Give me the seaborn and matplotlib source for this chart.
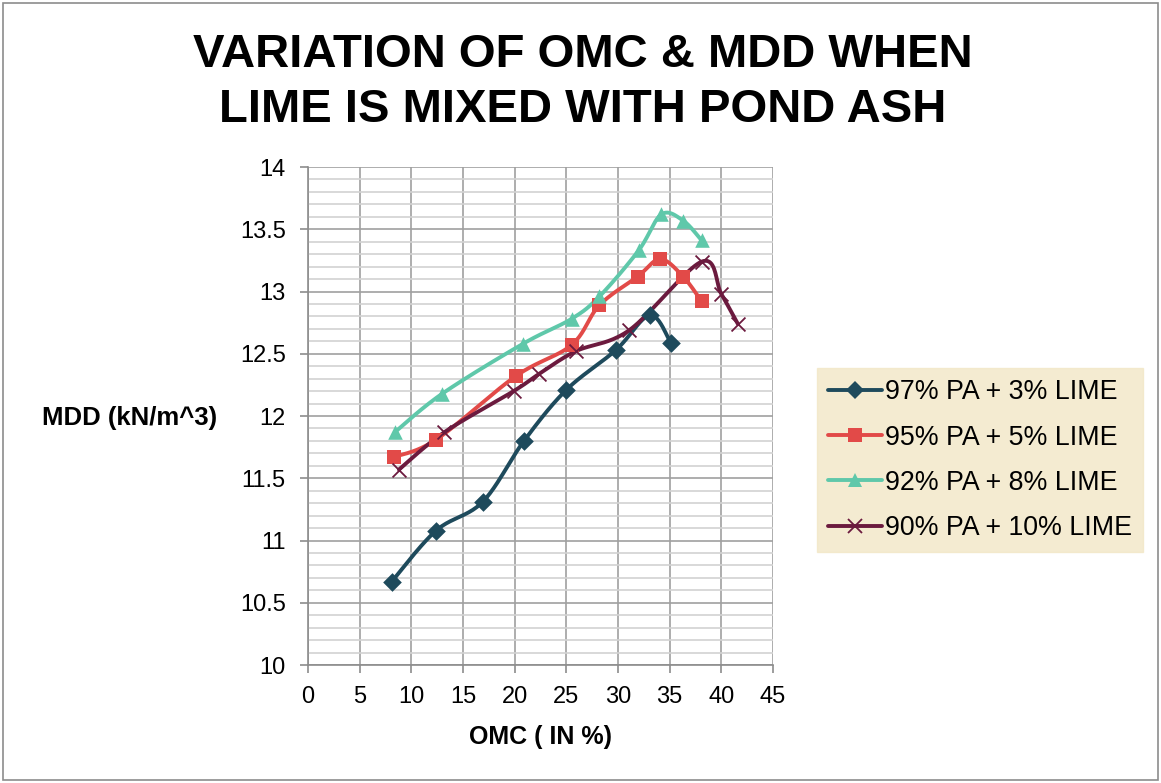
import numpy as np
import pandas as pd
import matplotlib
matplotlib.use("Agg")
import matplotlib.pyplot as plt
from matplotlib.lines import Line2D
from matplotlib.ticker import MultipleLocator
import seaborn as sns

# OMC (%) and MDD (kN/m^3) for each pond ash / lime mix
omc_3 = [8.1, 12.4, 16.9, 20.9, 25.0, 29.8, 33.1, 35.1]
mdd_3 = [10.67, 11.08, 11.31, 11.80, 12.21, 12.53, 12.81, 12.59]

omc_5 = [8.3, 12.4, 20.1, 25.5, 28.2, 31.9, 34.1, 36.3, 38.1]
mdd_5 = [11.67, 11.81, 12.32, 12.57, 12.89, 13.12, 13.26, 13.12, 12.92]

omc_8 = [8.4, 13.0, 20.8, 25.5, 28.2, 32.0, 34.2, 36.3, 38.1]
mdd_8 = [11.87, 12.18, 12.58, 12.78, 12.96, 13.33, 13.62, 13.57, 13.41]

omc_10 = [8.8, 13.2, 19.9, 22.4, 25.9, 31.1, 38.1, 40.0, 41.6]
mdd_10 = [11.57, 11.87, 12.20, 12.34, 12.52, 12.69, 13.24, 12.98, 12.74]

labels = ["97% PA + 3% LIME", "95% PA + 5% LIME", "92% PA + 8% LIME", "90% PA + 10% LIME"]
colors = ["#1E4A5C", "#E24A48", "#5FC8AA", "#6B1A3E"]
markers = ["D", "s", "^", "x"]
msizes = [9.5, 10, 10.5, 10]

x_ticks = list(range(0, 50, 5))
y_ticks = [10, 10.5, 11, 11.5, 12, 12.5, 13, 13.5, 14]

series = [(omc_3, mdd_3), (omc_5, mdd_5), (omc_8, mdd_8), (omc_10, mdd_10)]


def smooth(xs, ys, n=24):
    """Spreadsheet-style smoothed line: cubic Bezier segments with Catmull-Rom handles."""
    p = np.column_stack([xs, ys]).astype(float)
    # work in display-like units so the curve shape follows the drawn aspect
    sx, sy = 10.33, 124.6
    p = p * [sx, sy]
    out = []
    m = len(p)
    for i in range(m - 1):
        p0 = p[i - 1] if i > 0 else p[i]
        p1, p2 = p[i], p[i + 1]
        p3 = p[i + 2] if i + 2 < m else p[i + 1]
        c1 = p1 + (p2 - p0) / 6.0
        c2 = p2 - (p3 - p1) / 6.0
        t = np.linspace(0, 1, n)[:, None]
        seg = ((1 - t) ** 3) * p1 + 3 * ((1 - t) ** 2) * t * c1 + 3 * (1 - t) * t ** 2 * c2 + t ** 3 * p2
        out.append(seg if i == 0 else seg[1:])
    c = np.vstack(out) / [sx, sy]
    return c[:, 0], c[:, 1]


sns.set_style("white")
plt.rcParams["font.family"] = ["Liberation Sans", "DejaVu Sans"]
plt.rcParams["text.color"] = "black"
plt.rcParams["axes.labelcolor"] = "black"

fig = plt.figure(figsize=(11.61, 7.83), dpi=100)
ax = fig.add_axes([0.2653, 0.1507, 0.4005, 0.636])

for (xs, ys), lab, col, mk, ms in zip(series, labels, colors, markers, msizes):
    cx, cy = smooth(xs, ys)
    ax.plot(cx, cy, color=col, lw=2.8, solid_capstyle="round", zorder=3)
    df = pd.DataFrame({"OMC": xs, "MDD": ys})
    if mk == "x":
        sns.scatterplot(data=df, x="OMC", y="MDD", ax=ax, marker="x", color=col,
                        s=ms ** 2, linewidth=1.3, zorder=4, legend=False)
    else:
        sns.scatterplot(data=df, x="OMC", y="MDD", ax=ax, marker=mk, color=col,
                        s=ms ** 2, linewidth=0, zorder=4, legend=False)

ax.set_xlim(0, 45)
ax.set_ylim(10, 14)
ax.set_xticks(x_ticks)
ax.set_yticks(y_ticks)
ax.set_xticklabels([str(v) for v in x_ticks])
ax.set_yticklabels([f"{v:g}" for v in y_ticks])
ax.yaxis.set_minor_locator(MultipleLocator(0.1))
ax.grid(which="major", color="#A0A0A0", lw=1.2, zorder=0)
ax.grid(which="minor", axis="y", color="#D2D2D2", lw=1.2, zorder=0)
ax.set_axisbelow(True)
for s in ["top", "right"]:
    ax.spines[s].set_visible(False)
for s in ["left", "bottom"]:
    ax.spines[s].set_color("#8C8C8C")
    ax.spines[s].set_linewidth(1.2)
ax.tick_params(axis="both", which="major", direction="out", length=6, width=1.2,
               color="#8C8C8C", labelcolor="black", labelsize=17, left=True, bottom=True)
ax.tick_params(axis="y", which="major", pad=10)
ax.tick_params(axis="x", which="major", pad=9)
ax.tick_params(axis="y", which="minor", left=False)

ax.set_xlabel("OMC ( IN %)", fontsize=18, fontweight="bold", va="center")
ax.xaxis.set_label_coords(0.5, -0.1446)
ax.set_ylabel("MDD (kN/m^3)", fontsize=18.5, fontweight="bold", rotation=0,
              ha="center", va="center")
ax.yaxis.set_label_coords(-0.383, 0.496)

fig.text(0.5017, 0.9144, "VARIATION OF OMC & MDD WHEN", ha="center", va="baseline",
         fontsize=34, fontweight="bold")
fig.text(0.5017, 0.8442, "LIME IS MIXED WITH POND ASH", ha="center", va="baseline",
         fontsize=34, fontweight="bold")

handles = [Line2D([0], [0], color=c, lw=2.8, marker=m,
                  markersize={"D": 9, "s": 10, "^": 10, "x": 10}[m],
                  markeredgewidth=(1.3 if m == "x" else 0))
           for c, m in zip(colors, markers)]
leg = fig.legend(handles, labels, loc="upper left", bbox_to_anchor=(0.7037, 0.530),
                 fontsize=19.3, frameon=True, fancybox=False, handlelength=2.0,
                 handletextpad=0.12, labelspacing=0.72, borderpad=0.42,
                 borderaxespad=0)
leg.get_frame().set_facecolor("#F2E7C6")
leg.get_frame().set_edgecolor("#F2E7C6")

# thin frame around the whole chart
fig.patches.append(plt.Rectangle((0.003, 0.004), 0.994, 0.992, transform=fig.transFigure,
                                 fill=False, edgecolor="#8C8C8C", lw=1.2))

fig.savefig("out.png", dpi=100)
